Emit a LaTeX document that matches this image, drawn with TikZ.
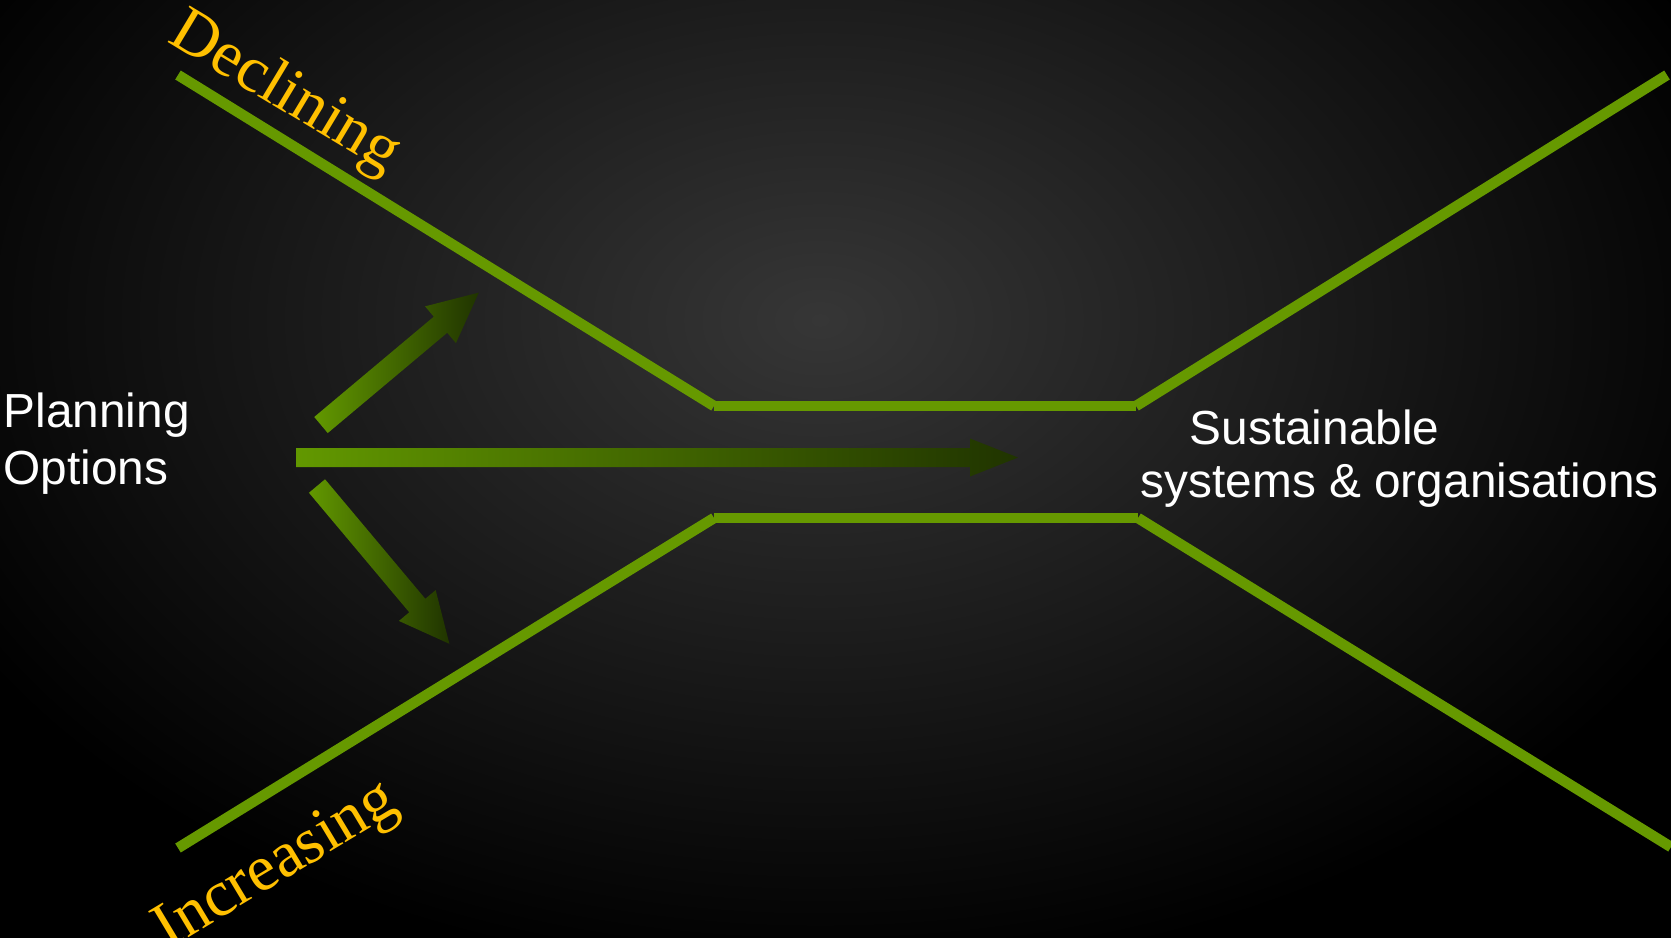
\documentclass[tikz,border=0pt]{standalone}
\usepackage{fontspec}
\setmainfont{Liberation Sans}
\newfontfamily\goldserif{Liberation Serif}
\usetikzlibrary{positioning}
\definecolor{funnel}{RGB}{102,153,0}
\definecolor{arrowhi}{RGB}{98,152,0}
\definecolor{arrowlo}{RGB}{32,52,0}
\definecolor{trendgold}{RGB}{255,192,0}
\definecolor{bgmid}{RGB}{54,54,54}

\begin{document}
\begin{tikzpicture}[
        wall/.style={draw=funnel, line width=3pt, line cap=butt},
        blockarrow/.style={left color=arrowhi, middle color=arrowhi!60!arrowlo, right color=arrowlo, draw=none},
        optext/.style={text=white, align=left, inner sep=0pt, font=\fontsize{13.6}{15.2}\selectfont},
        trend/.style={text=trendgold, inner sep=0pt, font=\goldserif\fontsize{18.5}{22}\selectfont}
    ]

        % Fondo
        \useasboundingbox (0,0) rectangle (16.71,-9.37);
        \begin{scope}
            \clip (0,0) rectangle (16.71,-9.37);
            \fill[black] (-0.2,0.2) rectangle (16.91,-9.57);
            \shade[inner color=bgmid, outer color=black] (8.2,-3.2) ellipse (9.8 and 6.6);
        \end{scope}

        % Embudo superior (y = -4.06)
        \coordinate (decA) at (1.78,-0.75);
        \coordinate (decB) at (7.14,-4.06);
        \coordinate (decC) at (11.36,-4.06);
        \coordinate (decD) at (16.67,-0.75);
        \draw [wall] (decA) -- (decB);
        \draw [wall] (decB) -- (decC);
        \draw [wall] (decC) -- (decD);

        % Embudo inferior (y = -5.18)
        \coordinate (incA) at (1.78,-8.48);
        \coordinate (incB) at (7.14,-5.18);
        \coordinate (incC) at (11.38,-5.18);
        \coordinate (incD) at (16.71,-8.47);
        \draw [wall] (incA) -- (incB);
        \draw [wall] (incB) -- (incC);
        \draw [wall] (incC) -- (incD);

        % Flechas de opciones
        \coordinate (upT) at (3.21,-4.25);
        \coordinate (midT) at (2.96,-4.575);
        \coordinate (lowT) at (3.17,-4.86);
        \shade [blockarrow, shift={(upT)}, rotate=40] (0,0.105) -- (1.56,0.105) -- (1.56,0.24) -- (2.06,0) -- (1.56,-0.24) -- (1.56,-0.105) -- (0,-0.105) -- cycle;
        \shade [blockarrow, shift={(midT)}] (0,0.095) -- (6.74,0.095) -- (6.74,0.19) -- (7.22,0) -- (6.74,-0.19) -- (6.74,-0.095) -- (0,-0.095) -- cycle;
        \shade [blockarrow, shift={(lowT)}, rotate=-50] (0,0.105) -- (1.56,0.105) -- (1.56,0.24) -- (2.06,0) -- (1.56,-0.24) -- (1.56,-0.105) -- (0,-0.105) -- cycle;

        % Textos
        \node [optext, anchor=north west, font=\fontsize{13.6}{16.2}\selectfont] (plan) at (0.03,-3.92) {Planning\\Options};
        \node [optext, anchor=north west] (goal) at (11.40,-4.09) {\hspace{0.49cm}Sustainable\\systems \& organisations};
        \node [trend, rotate=-31, anchor=base west] (decl) at (1.66,-0.41) {Declining};
        \node [trend, rotate=31, anchor=base west] (incr) at (1.68,-9.50) {Increasing};

    \end{tikzpicture}
\end{document}
